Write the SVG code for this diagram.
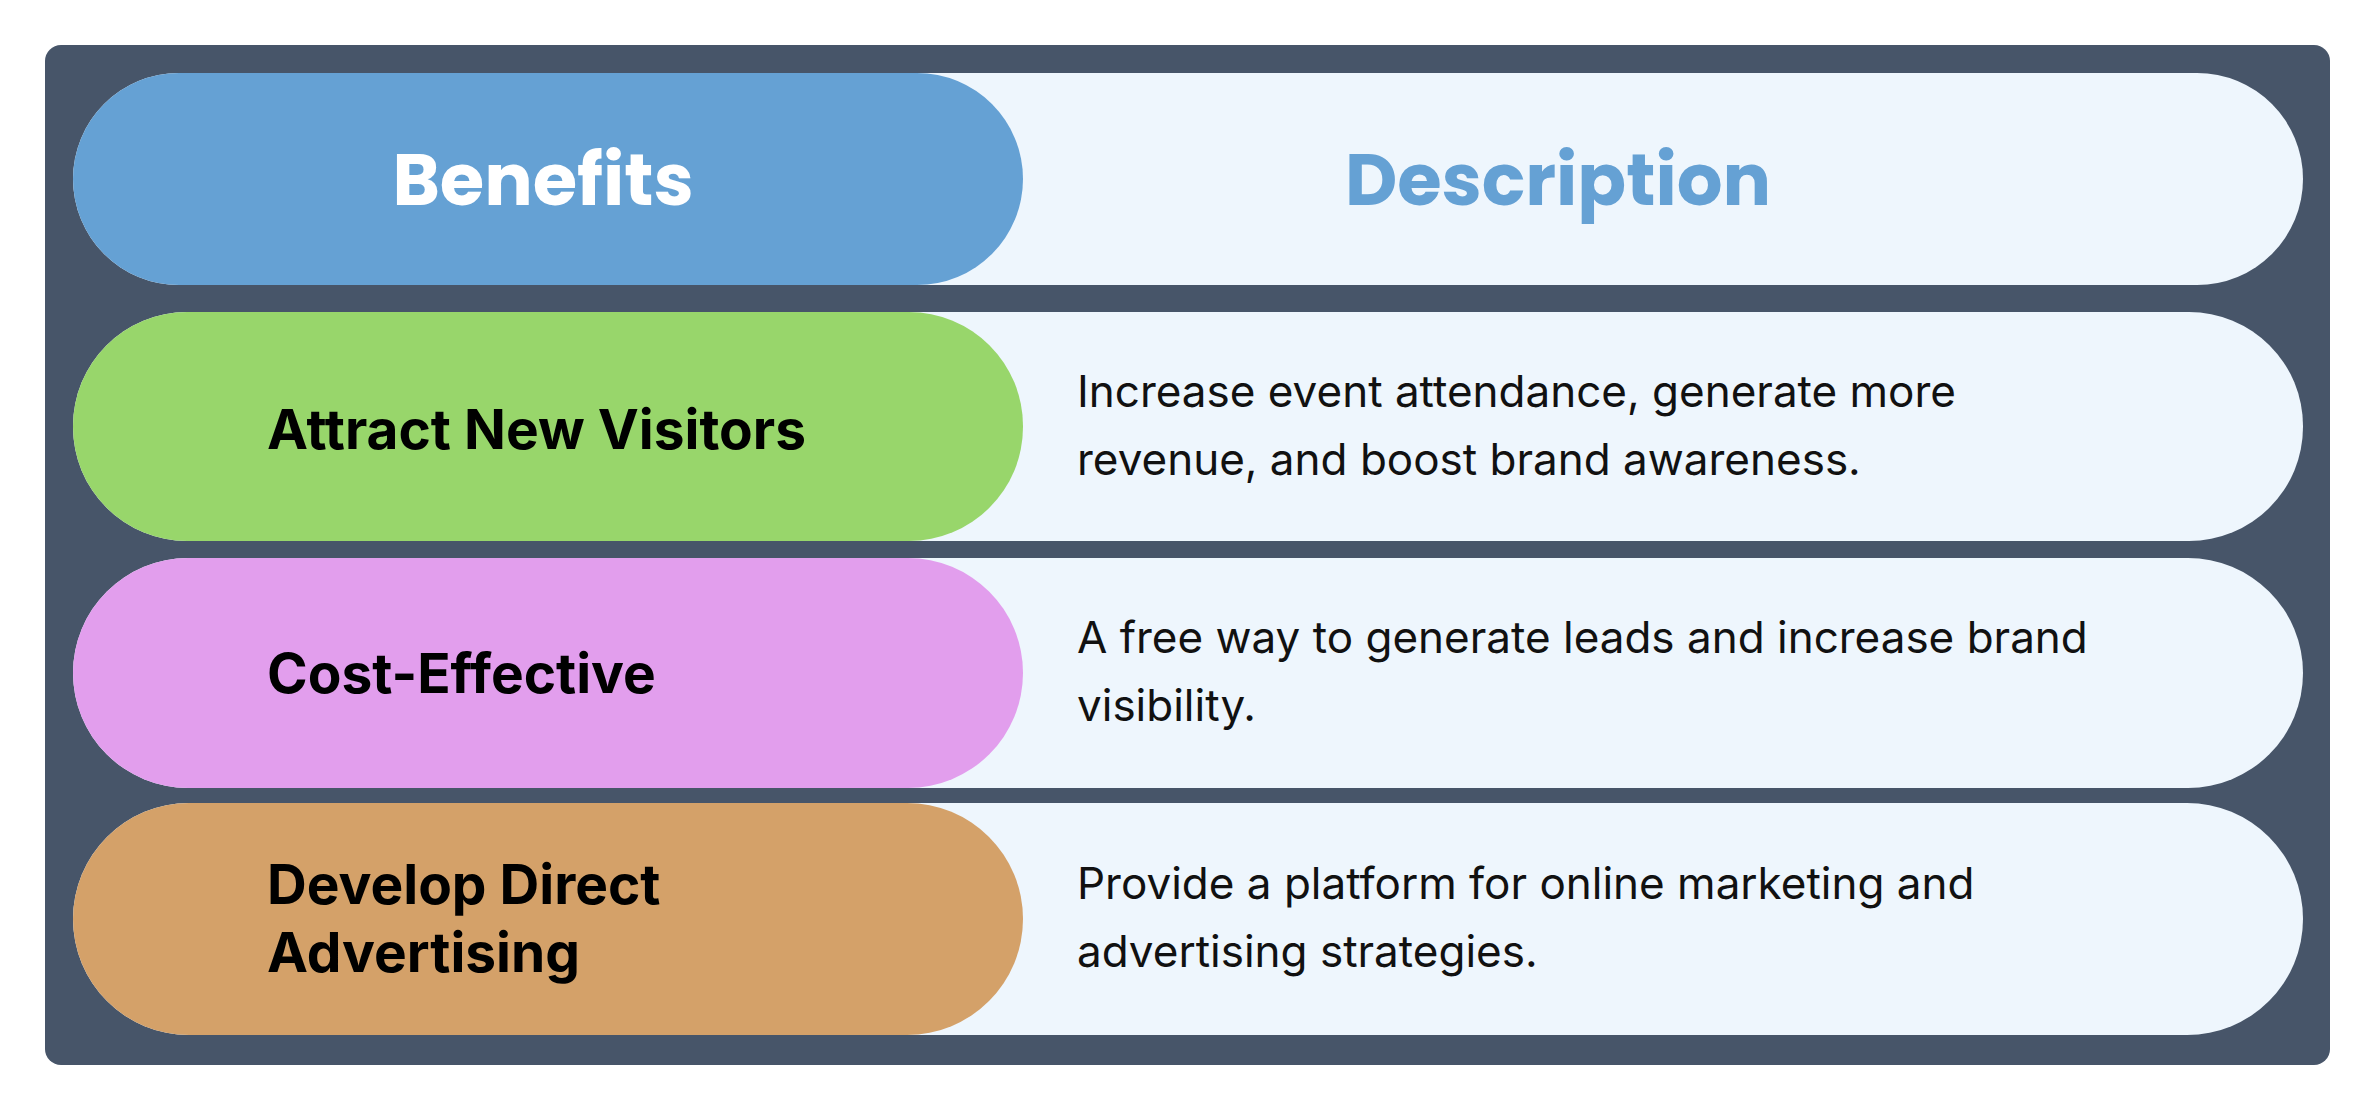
<svg xmlns="http://www.w3.org/2000/svg" width="2376" height="1109" viewBox="0 0 2376 1109">
<style>
.lt{fill:#eef6fd}
.h{font-family:Poppins,Inter,"Liberation Sans",sans-serif;font-weight:700;font-size:72px;text-anchor:middle}
.b{font-family:Inter,"Liberation Sans",sans-serif;font-weight:700;font-size:55px;fill:#000}
.d{font-family:Inter,"Liberation Sans",sans-serif;font-size:44px;fill:#111}
</style>
<rect x="0" y="0" width="2376" height="1109" fill="#fff"/>
<rect x="45" y="45" width="2285" height="1020" rx="16" fill="#475569"/>
<g id="header">
<rect class="lt" x="73" y="73" width="2230" height="212" rx="106"/>
<rect x="73" y="73" width="950" height="212" rx="106" fill="#65a1d4"/>
<text class="h" x="543" y="205" fill="#fff">Benefits</text>
<text class="h" x="1558" y="205" fill="#65a1d4">Description</text>
</g>
<g id="row1">
<rect class="lt" x="73" y="312" width="2230" height="229" rx="114"/>
<rect x="73" y="312" width="950" height="229" rx="114" fill="#98d66b"/>
<text class="b" x="267" y="449">Attract New Visitors</text>
<text class="d" x="1077" y="407">Increase event attendance, generate more</text>
<text class="d" x="1077" y="475">revenue, and boost brand awareness.</text>
</g>
<g id="row2">
<rect class="lt" x="73" y="558" width="2230" height="230" rx="115"/>
<rect x="73" y="558" width="950" height="230" rx="115" fill="#e29eed"/>
<text class="b" x="267" y="693">Cost-Effective</text>
<text class="d" x="1077" y="653">A free way to generate leads and increase brand</text>
<text class="d" x="1077" y="721">visibility.</text>
</g>
<g id="row3">
<rect class="lt" x="73" y="803" width="2230" height="232" rx="116"/>
<rect x="73" y="803" width="950" height="232" rx="116" fill="#d4a169"/>
<text class="b" x="267" y="904">Develop Direct</text>
<text class="b" x="267" y="972">Advertising</text>
<text class="d" x="1077" y="899">Provide a platform for online marketing and</text>
<text class="d" x="1077" y="967">advertising strategies.</text>
</g>
<g id="connectors"/>
</svg>
